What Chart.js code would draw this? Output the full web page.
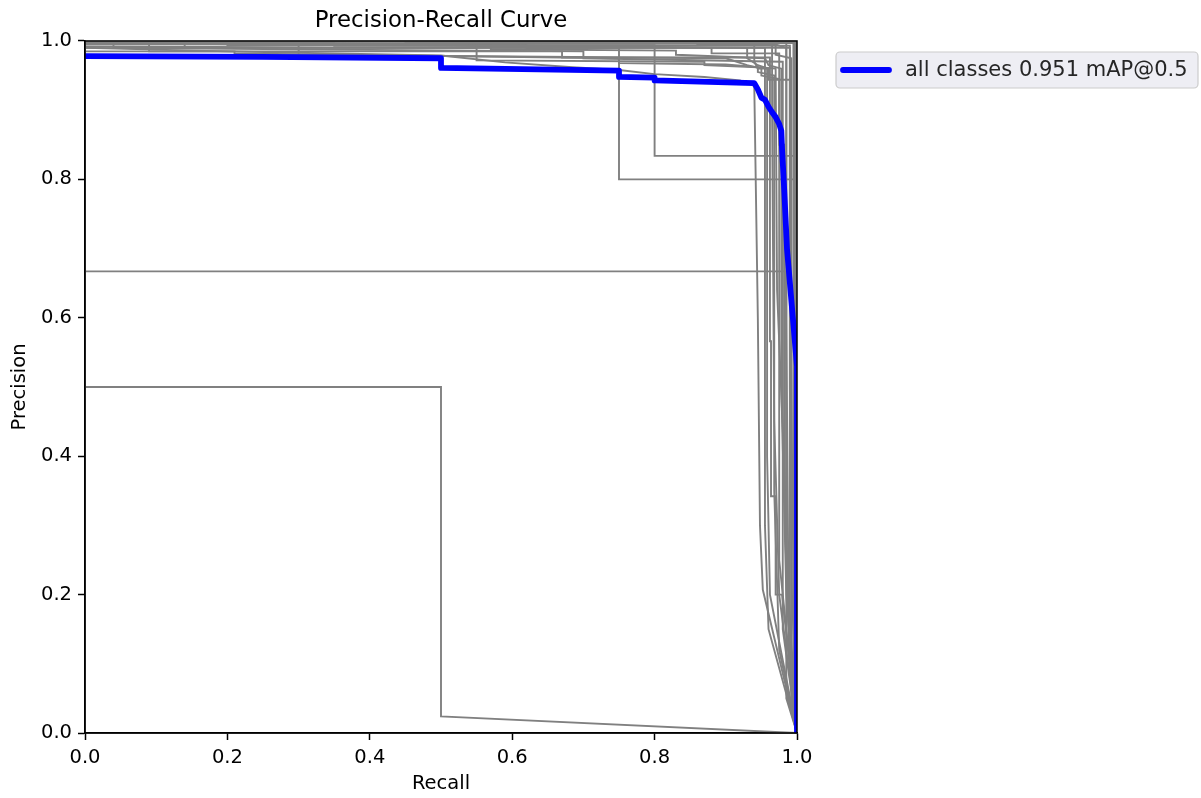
<!DOCTYPE html>
<html>
<head>
<meta charset="utf-8">
<title>Precision-Recall Curve</title>
<script src="https://cdn.jsdelivr.net/npm/chart.js@4.4.1/dist/chart.umd.min.js"></script>
<style>
  html, body { margin: 0; padding: 0; background: #fff; }
  canvas { display: block; }
</style>
</head>
<body>
<canvas id="prCurve" width="1201" height="798"></canvas>
<script>
// tick labels on both axes
const tickValues = [0, 0.2, 0.4, 0.6, 0.8, 1.0];

// mean curve over all classes: [recall, precision]
const allClassesLabel = 'all classes 0.951 mAP@0.5';
const allClasses = [
  [0, 0.978], [0.25, 0.977], [0.5, 0.975], [0.5, 0.961], [0.75, 0.957],
  [0.75, 0.948], [0.8, 0.947], [0.8, 0.943], [0.94, 0.939], [0.945, 0.93],
  [0.95, 0.918], [0.955, 0.915], [0.96, 0.905], [0.965, 0.897], [0.97, 0.89],
  [0.975, 0.88], [0.978, 0.87], [0.979, 0.844], [0.982, 0.786], [0.986, 0.699],
  [0.994, 0.602], [1.0, 0.53], [1.0, 0]
];

// one curve per class: [recall, precision]
const classCurves = [
  [[0, 0.5], [0.5, 0.5], [0.5, 0.024], [1, 0]],
  [[0, 0.667], [0.983, 0.667], [0.983, 0.3], [0.99, 0.1], [1, 0]],
  [[0, 1], [0.04, 1], [0.04, 0.99], [0.75, 0.99], [0.75, 0.8], [1, 0.8], [1, 0]],
  [[0, 1], [0.2, 0.998], [0.2, 0.994], [0.8, 0.994], [0.8, 0.834], [1, 0.834], [1, 0]],
  [[0, 0.99], [0.2, 0.985], [0.5, 0.979], [0.59, 0.969], [0.685, 0.962], [0.75, 0.958],
   [0.8, 0.952], [0.87, 0.948], [0.92, 0.943], [0.94, 0.935], [0.945, 0.6], [0.948, 0.3],
   [0.952, 0.207], [1, 0]],
  [[0, 0.995], [0.3, 0.995], [0.3, 0.985], [0.67, 0.985], [0.67, 0.976], [0.962, 0.976],
   [0.962, 0.566], [0.9635, 0.566], [0.9635, 0.342], [0.97, 0.342], [0.97, 0.2],
   [0.979, 0.2], [1, 0]],
  [[0, 1], [0.09, 1], [0.09, 0.985], [0.21, 0.985], [0.21, 0.982], [0.75, 0.975],
   [0.75, 0.968], [0.9, 0.966], [0.97, 0.96], [0.972, 0.64], [0.98, 0.44], [0.985, 0.3],
   [0.99, 0.1], [1, 0]],
  [[0, 0.998], [0.62, 0.996], [0.62, 0.99], [0.955, 0.99], [0.955, 0.3], [0.96, 0.15], [1, 0]],
  [[0, 1], [0.985, 1], [0.985, 0.05], [1, 0]],
  [[0, 0.998], [0.35, 0.998], [0.35, 0.993], [0.99, 0.993], [0.99, 0.1], [1, 0]],
  [[0, 1], [0.5, 1], [0.5, 0.997], [0.995, 0.997], [0.995, 0.02], [1, 0]],
  [[0, 1], [1, 1], [1, 0]],
  [[0, 0.997], [0.88, 0.99], [0.88, 0.982], [0.975, 0.982], [0.975, 0.25], [1, 0]],
  [[0, 0.99], [0.7, 0.985], [0.7, 0.975], [0.98, 0.97], [0.98, 0.15], [1, 0]],
  [[0, 1], [0.05, 1], [0.05, 0.996], [0.94, 0.996], [0.94, 0.97], [0.945, 0.96],
   [0.958, 0.96], [0.958, 0.4], [0.962, 0.2], [1, 0]],
  [[0, 1], [0.86, 1], [0.86, 0.995], [0.965, 0.995], [0.965, 0.9], [0.968, 0.45],
   [0.975, 0.2], [1, 0]],
  [[0, 1], [0.93, 0.99], [0.93, 0.975], [0.945, 0.965], [0.96, 0.96], [0.96, 0.944],
   [0.99, 0.944], [0.99, 0.5], [0.993, 0.2], [1, 0]],
  [[0, 1], [0.97, 0.998], [0.97, 0.98], [0.992, 0.975], [0.992, 0.05], [1, 0]],
  [[0, 1], [0.998, 1], [0.998, 0.6], [1, 0.3], [1, 0]],
  [[0, 0.996], [0.57, 0.994], [0.57, 0.988], [0.83, 0.986], [0.83, 0.98], [0.955, 0.975],
   [0.96, 0.965], [0.978, 0.96], [0.978, 0.5], [0.985, 0.2], [1, 0]],
  [[0, 1], [0.45, 1], [0.45, 0.998], [0.997, 0.998], [0.997, 0.1], [1, 0]],
  [[0, 1], [0.03, 1], [0.03, 0.997], [0.14, 0.997], [0.14, 0.99], [0.99, 0.99],
   [0.99, 0.7], [0.994, 0.3], [1, 0]],
  [[0, 0.985], [0.3, 0.985], [0.3, 0.98], [0.9, 0.975], [0.93, 0.965], [0.95, 0.96],
   [0.95, 0.95], [0.975, 0.945], [0.975, 0.85], [0.982, 0.85], [0.982, 0.35],
   [0.99, 0.1], [1, 0]],
  [[0, 1], [0.75, 0.999], [0.97, 0.995], [0.985, 0.99], [0.985, 0.6], [0.988, 0.2], [1, 0]],
  [[0, 0.992], [0.55, 0.99], [0.55, 0.972], [0.87, 0.97], [0.87, 0.965], [0.945, 0.962],
   [0.945, 0.955], [0.968, 0.95], [0.968, 0.35], [0.975, 0.12], [1, 0]]
];

const FONT = "'DejaVu Sans', sans-serif";
Chart.defaults.color = '#000';
Chart.defaults.font.family = FONT;

const toPoints = arr => arr.map(([x, y]) => ({ x, y }));

const datasets = [{
  label: allClassesLabel,
  data: toPoints(allClasses),
  borderColor: '#0000ff',
  borderWidth: 5.8,
  borderJoinStyle: 'round',
  borderCapStyle: 'round'
}];
classCurves.forEach((c, i) => {
  datasets.push({
    label: 'class ' + i,
    data: toPoints(c),
    borderColor: '#808080',
    borderWidth: 1.9
  });
});

// top/right spines like matplotlib
const framePlugin = {
  id: 'frame',
  afterDatasetsDraw(chart) {
    const { ctx, chartArea: a } = chart;
    ctx.save();
    ctx.strokeStyle = '#000';
    ctx.lineWidth = 1.5;
    ctx.strokeRect(a.left, a.top, a.right - a.left, a.bottom - a.top);
    ctx.restore();
  }
};

// legend box outside the axes, upper left of the free space
const legendPlugin = {
  id: 'legendBox',
  afterDraw(chart) {
    const ds = chart.data.datasets[0];
    const ctx = chart.ctx;
    const x = chart.chartArea.right + 39, y = 52, w = 362, h = 36, r = 4;
    ctx.save();
    ctx.beginPath();
    ctx.roundRect(x, y, w, h, r);
    ctx.fillStyle = '#eeeef4';
    ctx.fill();
    ctx.strokeStyle = '#cccccc';
    ctx.lineWidth = 1.2;
    ctx.stroke();
    ctx.beginPath();
    ctx.moveTo(x + 7, y + h / 2);
    ctx.lineTo(x + 53, y + h / 2);
    ctx.strokeStyle = ds.borderColor;
    ctx.lineWidth = ds.borderWidth;
    ctx.lineCap = 'round';
    ctx.stroke();
    ctx.fillStyle = '#262626';
    ctx.font = '21px ' + FONT;
    ctx.textBaseline = 'middle';
    ctx.fillText(ds.label, x + 69, y + h / 2 + 1);
    ctx.restore();
  }
};

const axisCommon = {
  type: 'linear',
  min: 0,
  max: 1,
  afterBuildTicks: scale => { scale.ticks = tickValues.map(v => ({ value: v })); },
  ticks: {
    font: { size: 19.5 },
    color: '#000',
    padding: 6,
    callback: v => Number(v).toFixed(1)
  },
  grid: {
    drawOnChartArea: false,
    drawTicks: true,
    tickLength: 7,
    tickWidth: 1.5,
    tickColor: '#000'
  },
  border: { display: true, color: '#000', width: 1.5 }
};

new Chart(document.getElementById('prCurve').getContext('2d'), {
  type: 'scatter',
  data: { datasets },
  options: {
    responsive: false,
    animation: false,
    devicePixelRatio: 1,
    showLine: true,
    elements: {
      point: { radius: 0, hoverRadius: 0 },
      line: { tension: 0, fill: false }
    },
    layout: { padding: { left: 0, right: 404, top: 0, bottom: 0 } },
    plugins: {
      legend: { display: false },
      tooltip: { enabled: false },
      title: {
        display: true,
        text: 'Precision-Recall Curve',
        fullSize: false,
        color: '#000',
        font: { size: 22.8, weight: 'normal' },
        padding: { top: 7, bottom: 6.6 }
      }
    },
    scales: {
      x: Object.assign({}, axisCommon, {
        position: 'bottom',
        title: { display: true, text: 'Recall', font: { size: 19.5 }, color: '#000', padding: { top: 0, bottom: 2 } },
        afterFit: scale => { scale.height = 65; }
      }),
      y: Object.assign({}, axisCommon, {
        position: 'left',
        title: { display: true, text: 'Precision', font: { size: 19.5 }, color: '#000', padding: { top: 8, bottom: 0 } },
        afterFit: scale => { scale.width = 85; }
      })
    }
  },
  plugins: [framePlugin, legendPlugin]
});
</script>
</body>
</html>
